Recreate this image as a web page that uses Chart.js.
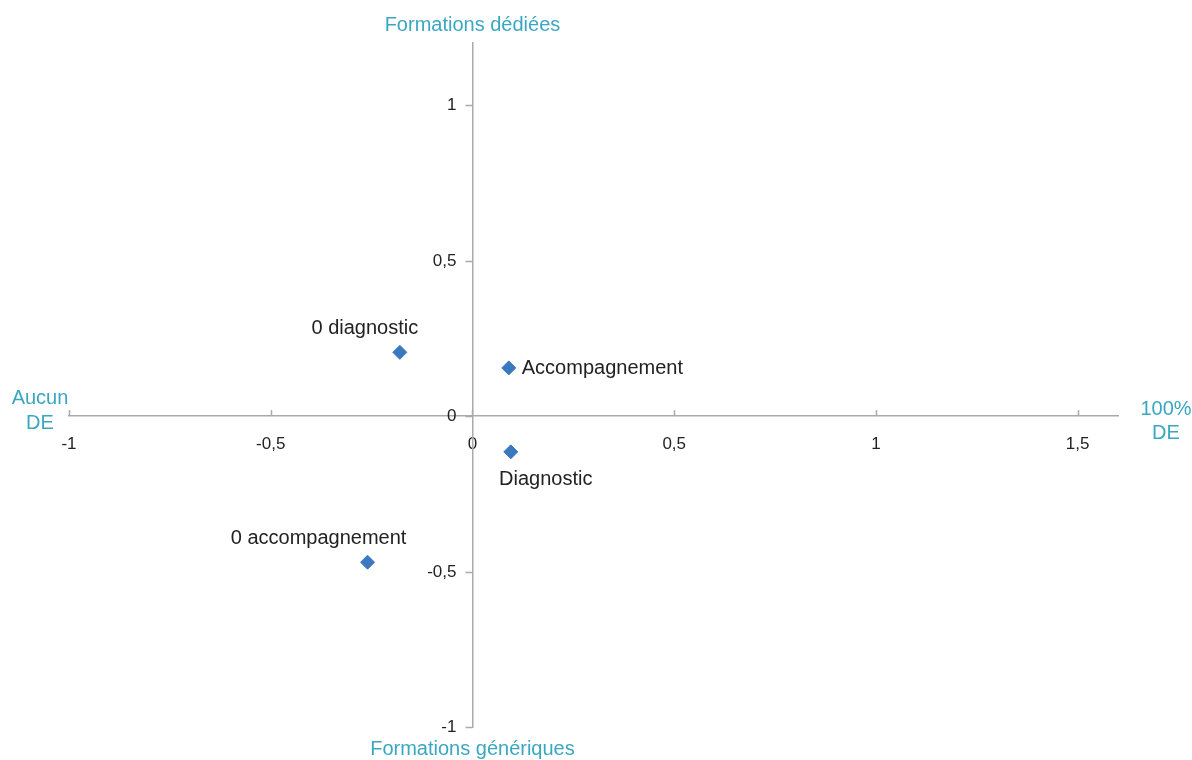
<!DOCTYPE html>
<html>
<head>
<meta charset="utf-8">
<script src="https://cdn.jsdelivr.net/npm/chart.js@4"></script>
<style>
  body { margin: 0; background: #fff; }
  #wrap { width: 1192px; height: 760px; }
</style>
</head>
<body>
<div id="wrap"><canvas id="chart" width="1192" height="760"></canvas></div>
<script>
const pointNames = ['0 diagnostic', 'Accompagnement', 'Diagnostic', '0 accompagnement'];
const xValues = [-0.18, 0.09, 0.095, -0.26];
const yValues = [0.205, 0.155, -0.115, -0.47];
const xTicks = [-1, -0.5, 0, 0.5, 1, 1.5];
const yTicks = [-1, -0.5, 0, 0.5, 1];

// where each point label sits relative to its marker
const labelPlace = [
    { dx: -35, dy: -24, align: 'center' },
    { dx: 13, dy: 1, align: 'left' },
    { dx: 35, dy: 28, align: 'center' },
    { dx: -49, dy: -24, align: 'center' }
];

const teal = '#3aa7c0';
const fontName = '"Liberation Sans", Arial, sans-serif';

const fmt = v => String(v).replace('.', ',');

const pointLabels = {
    id: 'pointLabels',
    afterDatasetsDraw(chart) {
        const ctx = chart.ctx;
        const meta = chart.getDatasetMeta(0);
        ctx.save();
        ctx.font = '20px ' + fontName;
        ctx.fillStyle = '#222';
        ctx.textBaseline = 'middle';
        meta.data.forEach((pt, i) => {
            const p = labelPlace[i];
            ctx.textAlign = p.align;
            ctx.fillText(pointNames[i], pt.x + p.dx, pt.y + p.dy);
        });
        ctx.restore();
    }
};

const axisExtras = {
    id: 'axisExtras',
    afterDraw(chart) {
        const ctx = chart.ctx;
        const xs = chart.scales.x;
        const ys = chart.scales.y;
        const x0 = xs.getPixelForValue(0);
        const y0 = ys.getPixelForValue(0);
        ctx.save();
        ctx.strokeStyle = '#aaa';
        ctx.lineWidth = 1.5;
        // small upward ticks on the x axis
        xTicks.forEach(v => {
            const px = Math.round(xs.getPixelForValue(v)) + 0.5;
            ctx.beginPath();
            ctx.moveTo(px, y0);
            ctx.lineTo(px, y0 - 6);
            ctx.stroke();
        });
        // left-pointing ticks and labels on the y axis
        ctx.fillStyle = '#222';
        ctx.font = '17px ' + fontName;
        ctx.textAlign = 'right';
        ctx.textBaseline = 'middle';
        yTicks.forEach(v => {
            const py = Math.round(ys.getPixelForValue(v)) + 0.5;
            ctx.beginPath();
            ctx.moveTo(x0, py);
            ctx.lineTo(x0 - 7, py);
            ctx.stroke();
            ctx.fillText(fmt(v), x0 - 16, py);
        });
        // end-of-axis captions
        ctx.fillStyle = teal;
        ctx.font = '20px ' + fontName;
        ctx.textAlign = 'center';
        ctx.fillText('Formations dédiées', x0, 25);
        ctx.fillText('Formations génériques', x0, 749);
        ctx.fillText('Aucun', 40, 398);
        ctx.fillText('DE', 40, 423);
        ctx.fillText('100%', 1166, 409);
        ctx.fillText('DE', 1166, 433);
        ctx.restore();
    }
};

new Chart(document.getElementById('chart'), {
    type: 'scatter',
    data: {
        datasets: [{
            data: xValues.map((x, i) => ({ x: x, y: yValues[i] })),
            pointStyle: 'rectRot',
            pointRadius: 7,
            pointHoverRadius: 7,
            backgroundColor: '#3a78c0',
            borderColor: '#3a78c0',
            borderWidth: 1
        }]
    },
    options: {
        responsive: false,
        animation: false,
        layout: { padding: { left: 69, right: 74, top: 43, bottom: 33 } },
        plugins: { legend: { display: false }, tooltip: { enabled: false } },
        scales: {
            x: {
                type: 'linear',
                position: { y: 0 },
                min: -1,
                max: 1.6,
                afterBuildTicks: s => { s.ticks = xTicks.map(v => ({ value: v })); },
                grid: { drawOnChartArea: false, drawTicks: false },
                border: { color: '#aaa', width: 1.5 },
                ticks: {
                    padding: 18,
                    maxRotation: 0,
                    color: '#222',
                    font: { family: fontName, size: 17 },
                    callback: fmt
                }
            },
            y: {
                type: 'linear',
                position: { x: 0 },
                min: -1,
                max: 1.2,
                afterBuildTicks: s => { s.ticks = yTicks.map(v => ({ value: v })); },
                grid: { drawOnChartArea: false, drawTicks: false },
                border: { color: '#aaa', width: 1.5 },
                ticks: { display: false }
            }
        }
    },
    plugins: [pointLabels, axisExtras]
});
</script>
</body>
</html>
